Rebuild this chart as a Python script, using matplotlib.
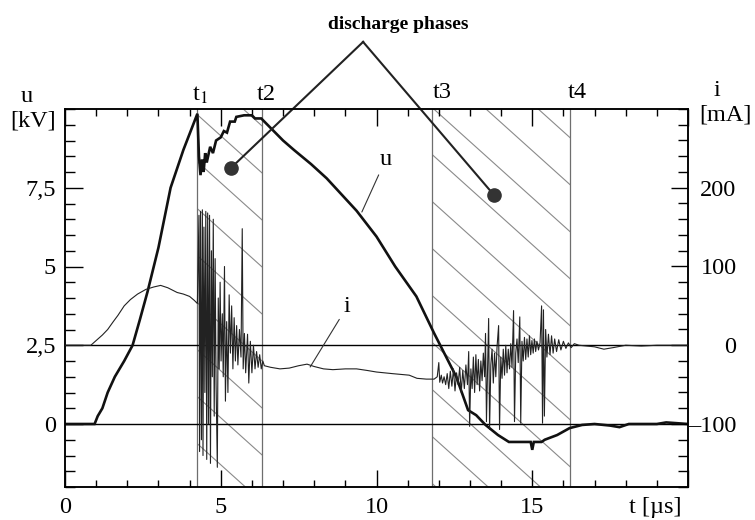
import matplotlib
matplotlib.use("Agg")
import matplotlib.pyplot as plt
from matplotlib.ticker import MultipleLocator, FixedLocator

plt.rcParams['font.family'] = ['Liberation Serif', 'DejaVu Serif']
plt.rcParams['mathtext.fontset'] = 'stix'

# ---------------- data ----------------
u_time = [0.0, 0.95, 1.05, 1.2, 1.37, 1.6, 1.9, 2.17, 2.4, 2.65, 3.0, 3.39, 3.8, 4.25,
          4.3, 4.35, 4.4, 4.45, 4.5, 4.55, 4.66, 4.75, 4.85, 5.0, 5.1, 5.2, 5.3, 5.45, 5.5, 5.75, 6.0, 6.1, 6.3,
          6.5, 6.7, 7.0, 7.35, 7.9, 8.4, 9.36, 10.0, 10.6, 11.28, 11.85, 12.2, 12.56, 12.94, 13.2, 13.5, 13.9, 14.25,
          14.95, 15.0, 15.05, 15.3, 15.4, 15.8, 16.2, 16.6, 17.0, 17.5, 17.8, 18.1, 19.0, 19.3, 20.0]
u_kv = [0, 0, 0.25, 0.5, 1.0, 1.5, 2.0, 2.5, 3.3, 4.2, 5.6, 7.5, 8.7, 9.85,
        8.5, 7.9, 8.4, 8.0, 8.6, 8.3, 8.8, 8.6, 9.0, 9.1, 9.3, 9.25, 9.6, 9.6, 9.75, 9.8, 9.8, 9.7, 9.7,
        9.5, 9.3, 9.0, 8.7, 8.25, 7.8, 6.77, 5.95, 5.0, 4.05, 2.88, 2.2, 1.5, 0.44, 0.28, -0.03, -0.35, -0.57,
        -0.57, -0.82, -0.57, -0.57, -0.5, -0.35, -0.13, -0.03, 0.0, -0.05, -0.1, 0.0, 0.0, 0.05, 0.0]

# current before / during the first phase (t1..t2)
i_time_a = [0.0, 0.5, 0.83, 1.0, 1.2, 1.37, 1.55, 1.7, 1.9, 2.1, 2.33, 2.6, 2.85, 3.07, 3.3, 3.6, 3.8, 4.0, 4.15, 4.25,
            4.30, 4.32, 4.35, 4.38, 4.41, 4.43, 4.46, 4.49, 4.52, 4.55, 4.58, 4.61, 4.64, 4.67, 4.70, 4.73, 4.76, 4.79,
            4.82, 4.85, 4.89, 4.92, 4.95, 4.98, 5.01, 5.05, 5.08, 5.12, 5.15, 5.19, 5.23, 5.27, 5.31, 5.35, 5.39, 5.43,
            5.47, 5.51, 5.55, 5.60, 5.65, 5.69, 5.72, 5.76, 5.80, 5.86, 5.90, 5.95, 6.00, 6.05, 6.10, 6.15, 6.20, 6.25,
            6.30, 6.35,
            6.4, 6.6, 6.9, 7.2, 7.5, 7.77, 8.0, 8.3, 8.6, 9.0, 9.36, 9.7, 10.0, 10.5, 11.05, 11.3, 11.6, 11.85]
i_ma_a = [0, 0, 0, 6, 13, 20, 30, 38, 50, 58, 65, 71, 74, 76, 73, 67, 65, 62, 57, 53,
          165, -135, 170, -120, 172, -140, 150, -60, 170, -145, 168, -100, 165, -150, 120, -40, 160, -90,
          110, -50, -155, 60, -30, 80, -20, 40, -40, 100, -71, 30, -60, 64, -10, 50, -30, 35,
          -20, 25, -25, 20, -15, 148, -30, 15, -35, 14, -48, 5, -35, 0, -30, -8, -28, -12,
          -30, -20,
          -26, -28, -30, -29, -26, -24, -27, -30, -31, -30, -30, -32, -34, -36, -38, -42, -43, -43]

# current during the second phase (t3..t4) and after
i_time_b = [11.95, 12.00, 12.03, 12.08, 12.12, 12.17, 12.22, 12.27, 12.32, 12.37,
            12.42, 12.47, 12.52, 12.57, 12.62, 12.67, 12.72, 12.77, 12.82, 12.87,
            12.92, 12.96, 12.99, 13.03, 13.07, 13.11, 13.15, 13.19, 13.23, 13.27,
            13.31, 13.35, 13.39, 13.43, 13.47, 13.50, 13.53, 13.57, 13.60, 13.63,
            13.67, 13.71, 13.75, 13.79, 13.83, 13.87, 13.92, 13.95, 13.99, 14.03,
            14.07, 14.11, 14.15, 14.19, 14.23, 14.27, 14.31, 14.35, 14.40, 14.43,
            14.47, 14.51, 14.55, 14.60, 14.63, 14.67, 14.71, 14.75, 14.79, 14.83,
            14.87, 14.91, 14.95, 14.99, 15.03, 15.07, 15.11, 15.15, 15.20, 15.25,
            15.30, 15.33, 15.36, 15.39, 15.43, 15.47, 15.52, 15.57, 15.62, 15.67,
            15.72, 15.78, 15.85, 15.92, 16.00, 16.08, 16.16, 16.25, 16.35, 16.50,
            17.0, 17.3, 17.6, 18.0, 18.5, 19.0, 19.5, 20.0]
i_ma_b = [-40, -22, -47, -38, -48, -40, -50, -36, -55, -33,
          -52, -30, -58, -35, -50, -28, -60, -32, -55, -25,
          -50, -8, -103, -30, -55, -15, -60, -12, -50, -18,
          -58, -20, -45, -10, -40, 15, -97, -20, 34, -107,
          -25, -5, -48, -10, -40, -2, 25, -107, -15, -42,
          -5, -38, 0, -35, -5, -30, 2, -28, 44, -97,
          -10, 8, -22, 36, -99, 5, -20, 10, -18, 8,
          -15, 12, -12, 6, -10, 8, -8, 5, -6, 3,
          50, -99, 45, -90, 20, -15, 14, -12, 12, -10,
          8, -8, 7, -6, 5, -4, 3, -3, 2, 0,
          -2, -5, -3, 0, -1, 0, 0, 0]
assert len(u_time) == len(u_kv)
assert len(i_time_a) == len(i_ma_a) and len(i_time_b) == len(i_ma_b)
i_time = i_time_a + i_time_b
i_ma = i_ma_a + i_ma_b

phase_times = [4.25, 6.33, 11.78, 16.2]
phase_names = ['t$_{1}$', 't2', 't3', 't4']
t_ticks = [0, 5, 10, 15, 20]
t_tick_labels = ['0', '5', '10', '15', '']
u_ticks = [0, 2.5, 5, 7.5]
u_tick_labels = ['0', '2,5', '5', '7,5']
i_ticks = [-100, 0, 100, 200]
i_tick_labels = ['\u2013100', '0', '100', '200']

# ---------------- figure ----------------
W, H = 755, 520
fig = plt.figure(figsize=(W / 100, H / 100), dpi=100)
L, R, T, B = 65, 688, 109, 487
ax = fig.add_axes([L / W, 1 - B / H, (R - L) / W, (B - T) / H])
ax.set_xlim(0, 20)
ax.set_ylim(-2, 10)
ax2 = ax.twinx()
ax2.set_ylim(-180, 300)

def px(x, y):
    return x / W, 1 - y / H

FS = 17.5
GRAY = '#6e6e6e'

# baselines
ax.axhline(0, color='black', lw=1.0, zorder=2)
ax.axhline(2.5, color='black', lw=1.0, zorder=2)

# phase boundaries and hatching
slope = -0.9 * (R - L) / (B - T)
spacing = 47 / (B - T)
hatch_c0 = [1.30, 1.878]
for k in range(2):
    a, b = phase_times[2 * k], phase_times[2 * k + 1]
    rect = ax.axvspan(a, b, facecolor='none', edgecolor='none')
    for j in range(-5, 30):
        c = hatch_c0[k] - j * spacing
        ln, = ax.plot([0, 1], [c, c + slope], transform=ax.transAxes, color='#8a8a8a', lw=0.8, zorder=1)
        ln.set_clip_path(rect)
for tp in phase_times:
    ax.axvline(tp, color=GRAY, lw=0.9, zorder=1)

# curves
ax.plot(u_time, u_kv, color='#111111', lw=1.9, zorder=4, solid_joinstyle='miter')
ax2.plot(i_time, i_ma, color='#222222', lw=0.8, zorder=3)

# ticks
for a_ in (ax, ax2):
    for s in a_.spines.values():
        s.set_linewidth(1.1)
ax.xaxis.set_major_locator(FixedLocator(t_ticks))
ax.set_xticklabels(t_tick_labels)
ax.xaxis.set_minor_locator(MultipleLocator(1))
ax.tick_params(axis='x', which='both', direction='in', top=True, bottom=True, labelsize=FS, pad=7)
ax.tick_params(axis='x', which='major', length=12, width=1.0)
ax.tick_params(axis='x', which='minor', length=5, width=1.0)

ax.yaxis.set_major_locator(FixedLocator(u_ticks))
ax.set_yticklabels(u_tick_labels)
ax.yaxis.set_minor_locator(MultipleLocator(0.5))
ax.tick_params(axis='y', which='both', direction='in', left=True, right=False, labelsize=FS, pad=6.5)
ax.tick_params(axis='y', which='major', length=13, width=1.0)
ax.tick_params(axis='y', which='minor', length=7, width=1.0)

ax2.yaxis.set_major_locator(FixedLocator(i_ticks))
ax2.set_yticklabels(i_tick_labels)
ax2.yaxis.set_minor_locator(MultipleLocator(20))
ax2.tick_params(axis='y', which='both', direction='in', right=True, left=False, labelsize=FS, pad=35)
ax2.tick_params(axis='y', which='major', length=12, width=1.0)
ax2.tick_params(axis='y', which='minor', length=7, width=1.0)
for lab in ax2.get_yticklabels():
    lab.set_horizontalalignment('right')

# axis labels
fig.text(*px(27, 96), 'u', fontsize=FS, ha='center', va='center')
fig.text(*px(33, 121), '[kV]', fontsize=FS, ha='center', va='center')
fig.text(*px(717, 91), 'i', fontsize=FS, ha='center', va='center')
fig.text(*px(725, 115), '[mA]', fontsize=FS, ha='center', va='center')
fig.text(*px(655, 507), 't [\u00b5s]', fontsize=FS, ha='center', va='center')

# phase labels above top axis
label_px = [(200, 95), (266, 95), (442, 93), (577, 93)]
for (x, y), name in zip(label_px, phase_names):
    fig.text(*px(x, y), name, fontsize=FS, ha='center', va='center')

# curve labels with pointer lines
ax.annotate('u', xy=(9.53, 6.73), xytext=(10.3, 8.41), fontsize=FS, ha='center', va='center',
            arrowprops=dict(arrowstyle='-', lw=0.8, color='#333333', shrinkA=2, shrinkB=0))
ax2.annotate('i', xy=(7.87, -27.6), xytext=(9.05, 48.6), fontsize=FS, ha='center', va='center',
             arrowprops=dict(arrowstyle='-', lw=0.8, color='#333333', shrinkA=2, shrinkB=0))

# discharge phases annotation
apex = (9.57, 12.13)
dots = [(5.33, 8.13), (13.77, 7.27)]
for d in dots:
    ax.plot([apex[0], d[0]], [apex[1], d[1]], color='#222222', lw=1.5, clip_on=False, zorder=6)
    ax.plot([d[0]], [d[1]], 'o', color='#333333', markersize=9.5, clip_on=False, zorder=7)
ax.text(10.69, 12.67, 'discharge phases', fontsize=14, fontweight='bold', ha='center', va='center')

fig.savefig('out.png', dpi=100, facecolor='white')
